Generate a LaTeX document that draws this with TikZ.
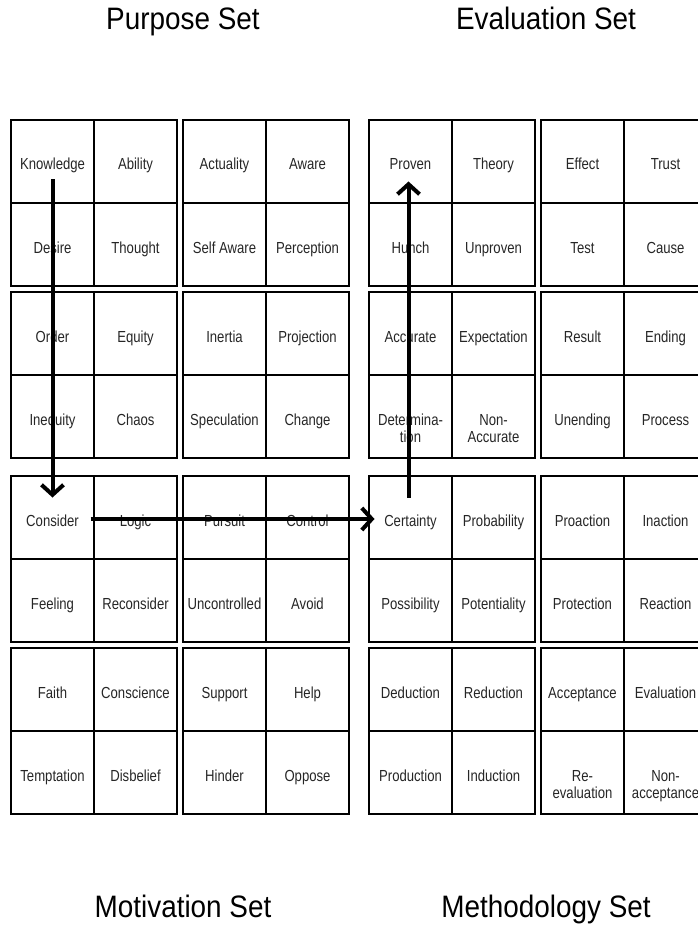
\documentclass[tikz,border=0pt]{standalone}
\usepackage{fontspec}
\usetikzlibrary{arrows.meta}
\newfontfamily\cellfont{Liberation Sans}[FakeStretch=0.82]
\newfontfamily\titlefont{Liberation Sans}[FakeStretch=0.9]
% label broken over two lines, first line on the baseline
\newcommand\twol[2]{\begin{tabular}[t]{@{}c@{}}#1\\#2\end{tabular}}
\begin{document}
\begin{tikzpicture}[x=1pt, y=-1pt,
    cell/.style={draw, line width=1.5pt, minimum width=83pt, minimum height=83pt, inner sep=0pt,
                 text height=17pt, text depth=0pt, text=black!85,
                 font=\cellfont\fontsize{16}{17}\selectfont},
    settitle/.style={anchor=base, font=\titlefont\fontsize{31}{34}\selectfont},
    path/.style={line width=4pt, -{Straight Barb[length=10pt, width=22pt]}}]
    \useasboundingbox (0,0) rectangle (697,925);
    % 1. set titles
    \node[settitle] (purpose) at (183, 30) {Purpose Set};
    \node[settitle] (evaluation) at (546, 30) {Evaluation Set};
    \node[settitle] (motivation) at (183, 917) {Motivation Set};
    \node[settitle] (methodology) at (546, 917) {Methodology Set};
    % 2. the 8x8 grid (four 2x2 blocks per set)
    \foreach \r/\row in {
        0/{Knowledge, Ability, Actuality, Aware, Proven, Theory, Effect, Trust},
        1/{Desire, Thought, Self Aware, Perception, Hunch, Unproven, Test, Cause},
        2/{Order, Equity, Inertia, Projection, Accurate, Expectation, Result, Ending},
        3/{Inequity, Chaos, Speculation, Change, \twol{Determina-}{tion}, \twol{Non-}{Accurate}, Unending, Process},
        4/{Consider, Logic, Pursuit, Control, Certainty, Probability, Proaction, Inaction},
        5/{Feeling, Reconsider, Uncontrolled, Avoid, Possibility, Potentiality, Protection, Reaction},
        6/{Faith, Conscience, Support, Help, Deduction, Reduction, Acceptance, Evaluation},
        7/{Temptation, Disbelief, Hinder, Oppose, Production, Induction, \twol{Re-}{evaluation}, \twol{Non-}{acceptance}}}{
        \foreach \txt [count=\c from 0] in \row {
            \pgfmathsetmacro\xx{{52.5,135.5,224.5,307.5,410.5,493.5,582.5,665.5}[\c]}
            \pgfmathsetmacro\yy{{161.5,244.5,333.5,416.5,517.5,600.5,689.5,772.5}[\r]}
            \node[cell] (cell-\r-\c) at (\xx, \yy) {\txt};
        }
    }
    % 3. the route through the sets
    \draw[path] ([yshift=-18pt]cell-0-0.center) -- ([yshift=20pt]cell-4-0.center);
    \draw[path] ([xshift=38pt, yshift=-1.5pt]cell-4-0.center) -- ([xshift=-36pt, yshift=-1.5pt]cell-4-4.center);
    \draw[path] ([xshift=-2pt, yshift=20pt]cell-4-4.center) -- ([xshift=-2pt, yshift=-20pt]cell-0-4.center);
\end{tikzpicture}
\end{document}
